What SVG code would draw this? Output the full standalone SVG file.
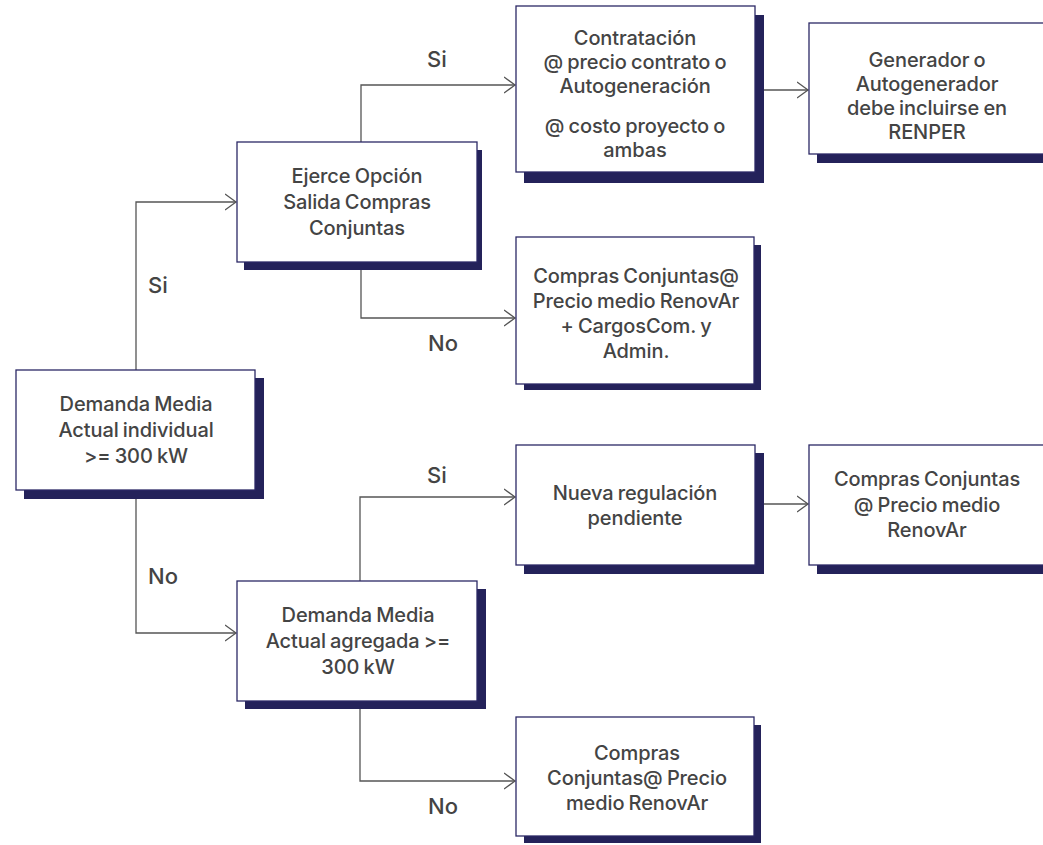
<svg xmlns="http://www.w3.org/2000/svg" width="1043" height="845" viewBox="0 0 1043 845">
<style>
.box{fill:#ffffff;stroke:#2b2866;stroke-width:1.3}
.sh{fill:#24225a}
.t{font-family:Inter,"Noto Sans","Liberation Sans",sans-serif;font-size:20px;font-weight:500;letter-spacing:-0.1px;word-spacing:-1px;fill:#444444;text-anchor:middle}
.lbl{font-family:Inter,"Noto Sans","Liberation Sans",sans-serif;font-size:22px;font-weight:500;fill:#444444}
.c{fill:none;stroke:#555555;stroke-width:1.3}
</style>
<defs>
<marker id="arr" markerUnits="userSpaceOnUse" markerWidth="14" markerHeight="20" refX="11" refY="9" orient="auto">
<path d="M0,1 L11,9 L0,17" fill="none" stroke="#555555" stroke-width="1.3"/>
</marker>
</defs>
<rect width="1043" height="845" fill="#ffffff"/>
<g id="connectors">
<path class="c" d="M136,370 V202 H236" marker-end="url(#arr)"/>
<path class="c" d="M136,490 V633 H236" marker-end="url(#arr)"/>
<path class="c" d="M361,142 V85 H515" marker-end="url(#arr)"/>
<path class="c" d="M361,262 V318 H515" marker-end="url(#arr)"/>
<path class="c" d="M360,581 V497 H515" marker-end="url(#arr)"/>
<path class="c" d="M360,701 V781 H515" marker-end="url(#arr)"/>
<path class="c" d="M755,90 H808" marker-end="url(#arr)"/>
<path class="c" d="M755,504 H808" marker-end="url(#arr)"/>
<text class="lbl" x="148" y="293">Si</text>
<text class="lbl" x="148" y="584">No</text>
<text class="lbl" x="427" y="67">Si</text>
<text class="lbl" x="428" y="351">No</text>
<text class="lbl" x="427" y="483">Si</text>
<text class="lbl" x="428" y="814">No</text>
</g>
<g id="n1">
<rect class="sh" x="24" y="378" width="240" height="121"/>
<rect class="box" x="16" y="370" width="239" height="120"/>
<text class="t" x="136" y="411">Demanda Media</text>
<text class="t" x="136" y="437">Actual  individual</text>
<text class="t" x="136" y="463">&gt;= 300 kW</text>
</g>
<g id="n2">
<rect class="sh" x="244" y="150" width="238" height="120"/>
<rect class="box" x="237" y="142" width="240" height="120"/>
<text class="t" x="357" y="183">Ejerce Opción</text>
<text class="t" x="357" y="209">Salida Compras</text>
<text class="t" x="357" y="235">Conjuntas</text>
</g>
<g id="n3">
<rect class="sh" x="524" y="15" width="240" height="168"/>
<rect class="box" x="516" y="6" width="239" height="166"/>
<text class="t" x="635" y="45">Contratación</text>
<text class="t" x="635" y="69">@ precio contrato o</text>
<text class="t" x="635" y="93">Autogeneración</text>
<text class="t" x="635" y="133">@ costo proyecto o</text>
<text class="t" x="635" y="157">ambas</text>
</g>
<g id="n4">
<rect class="sh" x="817" y="31" width="240" height="132"/>
<rect class="box" x="809" y="23" width="240" height="131"/>
<text class="t" x="927" y="67">Generador o</text>
<text class="t" x="927" y="91">Autogenerador</text>
<text class="t" x="927" y="115">debe incluirse en</text>
<text class="t" x="927" y="139">RENPER</text>
</g>
<g id="n5">
<rect class="sh" x="524" y="245" width="237" height="145"/>
<rect class="box" x="516" y="237" width="238" height="147"/>
<text class="t" x="636" y="283">Compras Conjuntas@</text>
<text class="t" x="636" y="308">Precio medio RenovAr</text>
<text class="t" x="636" y="333">+ CargosCom. y</text>
<text class="t" x="636" y="358">Admin.</text>
</g>
<g id="n6">
<rect class="sh" x="524" y="453" width="240" height="121"/>
<rect class="box" x="516" y="445" width="239" height="120"/>
<text class="t" x="635" y="500">Nueva regulación</text>
<text class="t" x="635" y="525">pendiente</text>
</g>
<g id="n7">
<rect class="sh" x="817" y="453" width="240" height="121"/>
<rect class="box" x="809" y="445" width="240" height="120"/>
<text class="t" x="927" y="486">Compras Conjuntas</text>
<text class="t" x="927" y="512">@ Precio medio</text>
<text class="t" x="927" y="537">RenovAr</text>
</g>
<g id="n8">
<rect class="sh" x="245" y="589" width="241" height="120"/>
<rect class="box" x="237" y="581" width="240" height="120"/>
<text class="t" x="358" y="622">Demanda Media</text>
<text class="t" x="358" y="648">Actual  agregada &gt;=</text>
<text class="t" x="358" y="674">300 kW</text>
</g>
<g id="n9">
<rect class="sh" x="524" y="725" width="237" height="118"/>
<rect class="box" x="516" y="717" width="238" height="119"/>
<text class="t" x="637" y="760">Compras</text>
<text class="t" x="637" y="785">Conjuntas@ Precio</text>
<text class="t" x="637" y="810">medio RenovAr</text>
</g>
</svg>
